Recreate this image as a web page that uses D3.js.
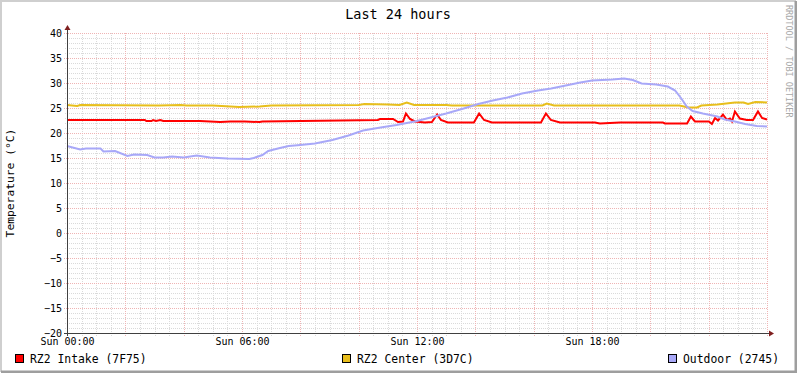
<!DOCTYPE html>
<html>
<head>
<meta charset="utf-8">
<script src="https://cdn.jsdelivr.net/npm/d3@7"></script>
<style>
body { margin: 0; background: #fff; }
text { font-family: "DejaVu Sans Mono", monospace; fill: #000; }
</style>
</head>
<body>
<script>
// hours since Sun 00:00, temperature in °C
var intake = [[0,22.6],[2.67,22.6],[2.72,22.4],[2.9,22.4],[2.95,22.6],[3.05,22.4],[3.2,22.6],[3.3,22.4],[4.56,22.4],[5.25,22.2],[5.6,22.3],[6.1,22.3],[6.6,22.2],[6.7,22.3],[9.36,22.5],[10.66,22.6],[10.73,22.8],[11.18,22.8],[11.35,22.2],[11.52,22.3],[11.62,23.9],[11.76,22.8],[11.93,22.3],[12.27,22.1],[12.51,22.2],[12.69,23.7],[12.82,22.6],[13.06,22.1],[13.95,22.1],[14.13,23.9],[14.3,22.6],[14.57,22.1],[16.25,22.1],[16.42,23.9],[16.59,22.6],[16.9,22.1],[18.1,22.1],[18.27,21.9],[18.96,22.1],[20.43,22.1],[20.5,21.9],[21.26,21.9],[21.39,23.3],[21.53,22.3],[22.01,22.3],[22.11,21.8],[22.22,23.0],[22.32,22.5],[22.49,23.7],[22.63,22.6],[22.73,22.9],[22.8,22.3],[22.9,24.3],[23.07,22.9],[23.31,22.6],[23.52,22.6],[23.69,24.3],[23.83,23.0],[24,22.7]];
var center = [[0,25.6],[0.35,25.4],[0.45,25.6],[3.15,25.5],[3.9,25.6],[4.1,25.5],[5.0,25.5],[5.9,25.2],[6.6,25.3],[7.0,25.5],[10.0,25.6],[10.2,25.8],[11.0,25.7],[11.4,25.6],[11.65,26.1],[11.9,25.6],[13.0,25.6],[13.2,25.5],[16.3,25.5],[16.45,25.9],[16.7,25.5],[21.0,25.5],[21.3,25.1],[21.6,25.1],[21.75,25.5],[22.3,25.7],[22.6,25.9],[22.9,26.1],[23.2,26.1],[23.35,25.8],[23.6,26.2],[24,26.1]];
var outdoor = [[0,17.4],[0.45,16.7],[0.65,16.9],[1.15,16.9],[1.25,16.3],[1.65,16.4],[2.07,15.4],[2.3,15.7],[2.75,15.6],[3.0,15.1],[3.3,15.1],[3.6,15.3],[4.0,15.1],[4.45,15.5],[4.9,15.1],[5.5,14.9],[6.25,14.8],[6.4,15.0],[6.7,15.6],[6.9,16.4],[7.3,17.0],[7.6,17.4],[8.0,17.6],[8.5,17.9],[9.1,18.6],[9.65,19.5],[10.15,20.5],[10.75,21.1],[11.3,21.6],[12.0,22.4],[12.6,23.3],[13.0,23.9],[13.6,24.9],[14.1,25.8],[14.6,26.5],[15.1,27.1],[15.6,27.9],[16.15,28.5],[16.6,28.9],[17.1,29.5],[17.6,30.1],[18.0,30.5],[18.7,30.7],[19.1,30.9],[19.4,30.6],[19.7,29.9],[20.2,29.7],[20.6,29.3],[20.85,28.5],[21.05,27.0],[21.25,25.3],[21.45,24.4],[21.8,23.9],[22.3,23.3],[22.55,22.7],[22.9,22.3],[23.25,21.8],[23.65,21.4],[24,21.3]];

var seriesNames = ["RZ2 Intake (7F75)", "RZ2 Center (3D7C)", "Outdoor (2745)"];
var seriesColors = ["#FF0000", "#E8BE1C", "#A8A8F8"];
var xTickHours = [0, 6, 12, 18];
var xTickLabels = ["Sun 00:00", "Sun 06:00", "Sun 12:00", "Sun 18:00"];
var yTicks = [-20,-15,-10,-5,0,5,10,15,20,25,30,35,40];

var W = 797, H = 373;
var padL = 67, padT = 33, pw = 700, ph = 300;

var x = d3.scaleLinear().domain([0, 24]).range([padL, padL + pw]);
var y = d3.scaleLinear().domain([-20, 40]).range([padT + ph, padT]);

var svg = d3.select("body").append("svg").attr("width", W).attr("height", H);

// background + 3d border
svg.append("rect").attr("width", W).attr("height", H).attr("fill", "#fff");
svg.append("path").attr("d", "M1,372V1H796").attr("fill", "none").attr("stroke", "#CFCFCF").attr("stroke-width", 2);
svg.append("path").attr("d", "M1,372H796V1").attr("fill", "none").attr("stroke", "#9E9E9E").attr("stroke-width", 3);

// grid
var grid = svg.append("g");
grid.selectAll(".vmin").data(d3.range(0, 24.01, 0.5).filter(h => h % 2 != 0))
  .enter().append("line")
  .attr("x1", d => Math.round(x(d)) + 0.5).attr("x2", d => Math.round(x(d)) + 0.5)
  .attr("y1", padT).attr("y2", padT + ph + 3)
  .attr("stroke", "#DADADA").attr("stroke-dasharray", "1,1");
grid.selectAll(".hmin").data(d3.range(-20, 41, 1).filter(v => v % 5 != 0))
  .enter().append("line")
  .attr("x1", padL - 2).attr("x2", padL + pw)
  .attr("y1", d => Math.round(y(d)) + 0.5).attr("y2", d => Math.round(y(d)) + 0.5)
  .attr("stroke", "#DADADA").attr("stroke-dasharray", "1,1");
grid.selectAll(".vmaj").data(d3.range(2, 24.01, 2))
  .enter().append("line")
  .attr("x1", d => Math.round(x(d)) + 0.5).attr("x2", d => Math.round(x(d)) + 0.5)
  .attr("y1", padT).attr("y2", padT + ph + 3)
  .attr("stroke", "#EFB4B4").attr("stroke-dasharray", "1,1");
grid.selectAll(".hmaj").data(yTicks)
  .enter().append("line")
  .attr("x1", padL - 3).attr("x2", padL + pw)
  .attr("y1", d => Math.round(y(d)) + 0.5).attr("y2", d => Math.round(y(d)) + 0.5)
  .attr("stroke", "#EFB4B4").attr("stroke-dasharray", "1,1");

// data lines
var line = d3.line().x(d => x(d[0])).y(d => y(d[1]));
[intake, center, outdoor].forEach(function(s, i) {
  svg.append("path").datum(s).attr("d", line)
    .attr("fill", "none").attr("stroke", seriesColors[i]).attr("stroke-width", 2)
    .attr("stroke-linejoin", "miter");
});

// axes
var yAxis = d3.axisLeft(y).tickValues(yTicks).tickSize(0).tickPadding(5).tickFormat(d3.format("d"));
var ga = svg.append("g").attr("transform", "translate(" + padL + ",0)").call(yAxis);
ga.select(".domain").remove();
ga.selectAll("text").style("font-size", "10px").style("font-family", "DejaVu Sans Mono");

var xAxis = d3.axisBottom(x).tickValues(xTickHours).tickSize(0).tickPadding(5)
  .tickFormat((d, i) => xTickLabels[i]);
var gx = svg.append("g").attr("transform", "translate(0," + (padT + ph) + ")").call(xAxis);
gx.select(".domain").remove();
gx.selectAll("text").style("font-size", "10px").style("font-family", "DejaVu Sans Mono");

svg.append("line").attr("x1", padL + 0.5).attr("x2", padL + 0.5).attr("y1", padT + ph + 3).attr("y2", padT - 4)
  .attr("stroke", "#404040").attr("stroke-width", 1);
svg.append("line").attr("x1", padL - 3).attr("x2", padL + pw + 4).attr("y1", padT + ph + 0.5).attr("y2", padT + ph + 0.5)
  .attr("stroke", "#404040").attr("stroke-width", 1);
svg.append("path").attr("d", "M" + (padL - 2.5) + "," + (padT - 3) + "L" + (padL + 0.5) + "," + (padT - 8) + "L" + (padL + 3.5) + "," + (padT - 3) + "Z")
  .attr("fill", "#7F1F1F");
svg.append("path").attr("d", "M" + (padL + pw + 2) + "," + (padT + ph - 2.5) + "L" + (padL + pw + 7) + "," + (padT + ph + 0.5) + "L" + (padL + pw + 2) + "," + (padT + ph + 3.5) + "Z")
  .attr("fill", "#7F1F1F");

// title and labels
svg.append("text").attr("x", 398).attr("y", 19).attr("text-anchor", "middle")
  .style("font-size", "13.5px").text("Last 24 hours");
svg.append("text").attr("transform", "translate(14," + (padT + ph / 2) + ") rotate(-90)")
  .attr("text-anchor", "middle").style("font-size", "11.3px").text("Temperature (°C)");
svg.append("text").attr("transform", "translate(786,5) rotate(90)")
  .style("font-size", "8.5px").style("fill", "#A8A8A8").text("RRDTOOL / TOBI OETIKER");

// legend
var legendX = [15, 342, 668];
seriesNames.forEach(function(n, i) {
  svg.append("rect").attr("x", legendX[i] + 0.5).attr("y", 354.5).attr("width", 8).attr("height", 8)
    .attr("fill", seriesColors[i]).attr("stroke", "#000").attr("stroke-width", 1);
  svg.append("text").attr("x", legendX[i] + 15).attr("y", 363).style("font-size", "11.4px").text(n);
});
</script>
</body>
</html>
